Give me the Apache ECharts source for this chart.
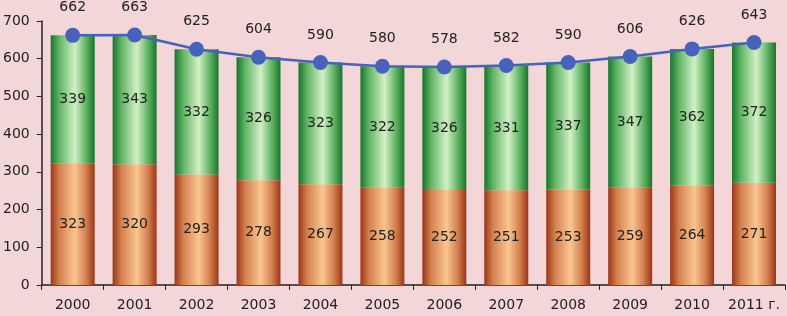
<!DOCTYPE html>
<html>
<head>
<meta charset="utf-8">
<script src="https://cdn.jsdelivr.net/npm/echarts@6/dist/echarts.min.js"></script>
<style>
  html, body { margin: 0; padding: 0; background: #f2d6d8; }
  #chart { width: 787px; height: 316px; }
</style>
</head>
<body>
<div id="chart"></div>
<script>
var years = ['2000', '2001', '2002', '2003', '2004', '2005', '2006', '2007', '2008', '2009', '2010', '2011 г.']
var lower = [323, 320, 293, 278, 267, 258, 252, 251, 253, 259, 264, 271]
var upper = [339, 343, 332, 326, 323, 322, 326, 331, 337, 347, 362, 372]
var totals = [662, 663, 625, 604, 590, 580, 578, 582, 590, 606, 626, 643]

var font = 'DejaVu Sans'

function grad(edge, mid, light) {
  return new echarts.graphic.LinearGradient(0, 0, 1, 0, [
    { offset: 0, color: edge },
    { offset: 0.2, color: mid },
    { offset: 0.55, color: light },
    { offset: 0.8, color: mid },
    { offset: 1, color: edge }
  ])
}

var chart = echarts.init(document.getElementById('chart'))
chart.setOption({
  backgroundColor: '#f2d6d8',
  animation: false,
  grid: { left: 39, right: 2, top: 21, bottom: 31 },
  xAxis: {
    type: 'category',
    data: years,
    axisLine: { lineStyle: { color: '#222', width: 1.5 } },
    axisTick: { show: true, lineStyle: { color: '#222' }, length: 5 },
    axisLabel: { interval: 0, color: '#222', fontFamily: font, fontSize: 14, margin: 13 }
  },
  yAxis: {
    type: 'value',
    min: 0,
    max: 700,
    interval: 100,
    splitLine: { show: false },
    axisLine: { show: true, lineStyle: { color: '#222', width: 1.5 } },
    axisTick: { show: true, lineStyle: { color: '#222' }, length: 5 },
    axisLabel: { color: '#222', fontFamily: font, fontSize: 14, margin: 12 }
  },
  series: [
    {
      type: 'bar',
      stack: 'total',
      data: lower,
      barWidth: '71%',
      itemStyle: { color: grad('#9a3518', '#d4814f', '#f9c690') },
      label: {
        show: true, position: 'inside', color: '#222',
        fontFamily: font, fontSize: 14
      }
    },
    {
      type: 'bar',
      stack: 'total',
      data: upper,
      itemStyle: { color: grad('#17752a', '#62b565', '#d2f0c6') },
      label: {
        show: true, position: 'inside', color: '#222',
        fontFamily: font, fontSize: 14
      }
    },
    {
      type: 'line',
      data: totals,
      symbol: 'circle',
      symbolSize: 15,
      lineStyle: { color: '#4662bd', width: 2.5 },
      itemStyle: { color: '#4662bd' },
      label: {
        show: true, position: 'top', distance: 13, color: '#222',
        fontFamily: font, fontSize: 14
      }
    }
  ]
})
</script>
</body>
</html>
